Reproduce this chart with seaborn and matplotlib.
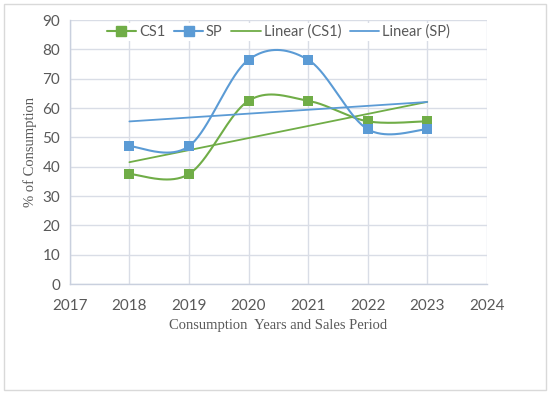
import numpy as np
import pandas as pd
import matplotlib
matplotlib.use("Agg")
import matplotlib.pyplot as plt
from matplotlib.lines import Line2D
from matplotlib.patches import Rectangle
import seaborn as sns

# data
years = [2018, 2019, 2020, 2021, 2022, 2023]
cs1 = [37.5, 37.5, 62.5, 62.5, 55.5, 55.5]
sp = [47.0, 47.0, 76.5, 76.5, 52.8, 52.8]

green = "#70ad47"
blue = "#5b9bd5"
grey_txt = "#595959"
sans = ["Lato", "DejaVu Sans"]


def smooth(x, y, n=40):
    # Excel style smoothed line (Catmull-Rom, ends duplicated)
    x = np.asarray(x, float)
    y = np.asarray(y, float)
    px = np.concatenate([[x[0]], x, [x[-1]]])
    py = np.concatenate([[y[0]], y, [y[-1]]])
    xs, ys = [], []
    t = np.linspace(0, 1, n)
    for i in range(1, len(px) - 2):
        x0, x1, x2, x3 = px[i - 1:i + 3]
        y0, y1, y2, y3 = py[i - 1:i + 3]
        cx1, cy1 = x1 + (x2 - x0) / 6, y1 + (y2 - y0) / 6
        cx2, cy2 = x2 - (x3 - x1) / 6, y2 - (y3 - y1) / 6
        bx = (1 - t) ** 3 * x1 + 3 * (1 - t) ** 2 * t * cx1 + 3 * (1 - t) * t ** 2 * cx2 + t ** 3 * x2
        by = (1 - t) ** 3 * y1 + 3 * (1 - t) ** 2 * t * cy1 + 3 * (1 - t) * t ** 2 * cy2 + t ** 3 * y2
        xs.extend(bx)
        ys.extend(by)
    return np.array(xs), np.array(ys)


sns.set_style("white")
fig = plt.figure(figsize=(5.5, 3.95), dpi=100)
fig.patches.append(Rectangle((0.008, 0.012), 0.984, 0.978, transform=fig.transFigure,
                             fill=False, edgecolor="#d9d9d9", linewidth=1))
ax = fig.add_axes([0.127, 0.281, 0.758, 0.668])

for vals, col in [(cs1, green), (sp, blue)]:
    sx, sy = smooth(years, vals)
    sns.lineplot(x=sx, y=sy, ax=ax, color=col, linewidth=1.5, sort=False, estimator=None)
    # linear trendline
    k, b = np.polyfit(years, vals, 1)
    tx = np.array([years[0], years[-1]])
    sns.lineplot(x=tx, y=k * tx + b, ax=ax, color=col, linewidth=1.3)
    sns.scatterplot(x=years, y=vals, ax=ax, color=col, marker="s", s=55,
                    edgecolor=col, linewidth=0, zorder=5)

ax.set_xlim(2017, 2024)
ax.set_ylim(0, 90)
ax.set_xticks(range(2017, 2025))
ax.set_yticks(range(0, 91, 10))
ax.grid(True, color="#d9dde6", linewidth=1)
ax.set_axisbelow(True)
for s in ["top", "right"]:
    ax.spines[s].set_visible(False)
for s in ["left", "bottom"]:
    ax.spines[s].set_color("#c9d0de")
    ax.spines[s].set_linewidth(1)
ax.tick_params(axis="both", length=0, labelsize=11, labelcolor=grey_txt, pad=7)
ax.tick_params(axis="x", pad=11)
for lab in ax.get_xticklabels() + ax.get_yticklabels():
    lab.set_family(sans)

ax.set_xlabel("Consumption  Years and Sales Period", family="Liberation Serif",
              fontsize=10.5, color=grey_txt, labelpad=4)
ax.set_ylabel("% of Consumption", family="Liberation Serif",
              fontsize=10.5, color=grey_txt, labelpad=4)

handles = [
    Line2D([], [], color=green, marker="s", markersize=7, linewidth=1.5),
    Line2D([], [], color=blue, marker="s", markersize=7, linewidth=1.5),
    Line2D([], [], color=green, linewidth=1.3),
    Line2D([], [], color=blue, linewidth=1.3),
]
leg = ax.legend(handles, ["CS1", "SP", "Linear (CS1)", "Linear (SP)"], ncol=4,
                loc="center", bbox_to_anchor=(0.5, 0.955), frameon=True,
                fancybox=False, edgecolor="none", facecolor="white", framealpha=1,
                handlelength=2.0, columnspacing=0.6, handletextpad=0.2,
                borderpad=0.1, prop={"family": sans, "size": 10.5})
for t in leg.get_texts():
    t.set_color(grey_txt)

fig.savefig("out.png", dpi=100)
